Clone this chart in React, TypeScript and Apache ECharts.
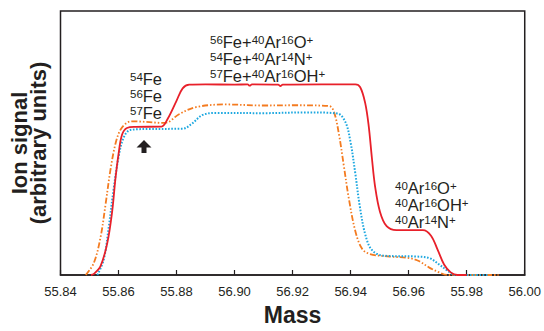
import React, { useEffect, useRef } from "react";
import * as echarts from "echarts";

const tickLabels = ["55.84", "55.86", "55.88", "56.90", "56.92", "56.94", "56.96", "55.98", "56.00"];

const redSeries: number[][] = [
  [55.8505, 0], [55.8515, 0.4], [55.8538, 3.4], [55.8561, 12], [55.8578, 24], [55.8589, 36.1],
  [55.86, 45.8], [55.8612, 53.1], [55.8629, 55.7], [55.8657, 56.1], [55.8748, 56.2], [55.877, 59.3],
  [55.8799, 65.8], [55.8821, 70.7], [55.8844, 72.1], [55.89, 72.2], [55.9, 72.1], [55.9045, 72.2],
  [55.9052, 71.7], [55.906, 72.2], [55.915, 72.1], [55.9158, 71.6], [55.9166, 72.1], [55.93, 72.2],
  [55.9416, 72.2], [55.9433, 71.1], [55.945, 65.2], [55.9462, 56.7], [55.9473, 44.6], [55.9484, 33.7],
  [55.9501, 24], [55.9524, 18.5], [55.9558, 17], [55.9649, 17], [55.9677, 14.9], [55.97, 9.5],
  [55.9722, 4], [55.9745, 1], [55.9768, 0], [55.98, 0],
];

const orangeSeries: number[][] = [
  [55.8487, 0], [55.8515, 4.6], [55.8538, 14.3], [55.8555, 26.5], [55.8572, 39.7], [55.8589, 49.5],
  [55.8606, 54.9], [55.8629, 57.7], [55.8651, 58.2], [55.8759, 57.6], [55.881, 61], [55.8867, 63.6],
  [55.8969, 64.6], [55.91, 64.2], [55.92, 64.3], [55.9326, 64], [55.9343, 61.6], [55.936, 53.1],
  [55.9377, 41], [55.9394, 28.8], [55.9416, 16.7], [55.9439, 10], [55.9467, 7.9], [55.9535, 7],
  [55.9603, 6.4], [55.9637, 5.2], [55.9671, 2.8], [55.9705, 1], [55.9734, 0], [55.991, 0],
];

const blueSeries: number[][] = [
  [55.8527, 0], [55.8549, 5.8], [55.8566, 17.9], [55.8583, 32.5], [55.86, 44.6], [55.8617, 51.9],
  [55.864, 54.9], [55.87, 55.3], [55.8821, 55.4], [55.8855, 57.5], [55.8889, 60.6], [55.8935, 61.4],
  [55.91, 61.3], [55.925, 61.6], [55.9354, 61.2], [55.9382, 57.9], [55.9399, 50.7], [55.9416, 38.5],
  [55.9431, 26.4], [55.945, 15.5], [55.9473, 9.5], [55.9513, 7.3], [55.9626, 7], [55.9671, 6.4],
  [55.9705, 4], [55.9734, 1.6], [55.9762, 0], [55.9875, 0],
];

// annotation lines: alternating [superscript, normal, superscript, normal, ...]
const feLines = [["54", "Fe"], ["56", "Fe"], ["57", "Fe"]];
const midLines = [
  ["56", "Fe+", "40", "Ar", "16", "O", "+", ""],
  ["54", "Fe+", "40", "Ar", "14", "N", "+", ""],
  ["57", "Fe+", "40", "Ar", "16", "OH", "+", ""],
];
const arLines = [
  ["40", "Ar", "16", "O", "+", ""],
  ["40", "Ar", "16", "OH", "+", ""],
  ["40", "Ar", "14", "N", "+", ""],
];

const FONT = "Liberation Sans, Arial, sans-serif";
const INK = "#231f20";
const LH = 17;

const toRich = (parts: string[]) =>
  parts
    .map((p, i) => (p === "" ? "" : i % 2 === 0 ? `{s|${p}}` : `{n|${p}}`))
    .join("");

const richStyle = {
  n: { fontSize: 16.5, fill: INK, fontFamily: FONT, lineHeight: LH },
  s: { fontSize: 11.5, fill: INK, fontFamily: FONT, verticalAlign: "top", lineHeight: LH },
};

const block = (lines: string[][], x: number, y: number) =>
  lines.map((parts, i) => ({
    type: "text",
    x,
    y: y + i * LH,
    style: {
      text: toRich(parts),
      rich: richStyle,
      fill: INK,
      fontSize: 16.5,
      lineHeight: LH,
    },
  }));

export default function App() {
  const ref = useRef<HTMLDivElement>(null);
  useEffect(() => {
    if (!ref.current) return;
    const chart = echarts.init(ref.current, null, { renderer: "svg" });
    const line = (data: number[][], color: string, width: number, type: any) => ({
      type: "line",
      data,
      smooth: 0.35,
      showSymbol: false,
      lineStyle: { color, width, type },
    });
    chart.setOption({
      animation: false,
      grid: {
        left: 59.5,
        right: 14,
        top: 11,
        bottom: 45,
        show: true,
        borderColor: INK,
        borderWidth: 1.5,
        backgroundColor: "transparent",
      },
      xAxis: {
        type: "value",
        min: 55.84,
        max: 56.0,
        interval: 0.02,
        name: "Mass",
        nameLocation: "middle",
        nameGap: 28,
        nameTextStyle: { fontSize: 23, fontWeight: "bold", color: INK, fontFamily: FONT },
        axisLine: { show: true, lineStyle: { color: INK, width: 1.5 } },
        axisTick: { show: true, inside: true, length: 5, lineStyle: { color: INK, width: 1.2 } },
        splitLine: { show: false },
        axisLabel: {
          margin: 10,
          fontSize: 13,
          color: INK,
          fontFamily: FONT,
          formatter: (v: number) => tickLabels[Math.round((v - 55.84) / 0.02)] ?? "",
        },
      },
      yAxis: {
        type: "value",
        min: 0,
        max: 100,
        name: "Ion signal\n(arbitrary units)",
        nameLocation: "middle",
        nameGap: 13,
        nameRotate: 90,
        nameTextStyle: { fontSize: 22, fontWeight: "bold", color: INK, fontFamily: FONT, lineHeight: 19 },
        axisLine: { show: false },
        axisTick: { show: false },
        axisLabel: { show: false },
        splitLine: { show: false },
      },
      series: [
        line(orangeSeries, "#f47b20", 1.8, [6, 2, 1.5, 2, 1.5, 2]),
        line(blueSeries, "#1ea8e0", 2, [1.6, 1.6]),
        line(redSeries, "#e8202a", 1.8, "solid"),
      ],
      graphic: [
        ...block(feLines, 130, 70.5),
        ...block(midLines, 210, 33.5),
        ...block(arLines, 395, 179.5),
        {
          type: "polygon",
          shape: {
            points: [
              [144, 140], [151.5, 147.5], [146.5, 147.5], [146.5, 153], [141.5, 153], [141.5, 147.5], [136.5, 147.5],
            ],
          },
          style: { fill: INK },
        },
      ],
    });
    return () => chart.dispose();
  }, []);
  return <div ref={ref} style={{ width: 544, height: 331, position: "absolute", left: 0, top: 0 }} />;
}
